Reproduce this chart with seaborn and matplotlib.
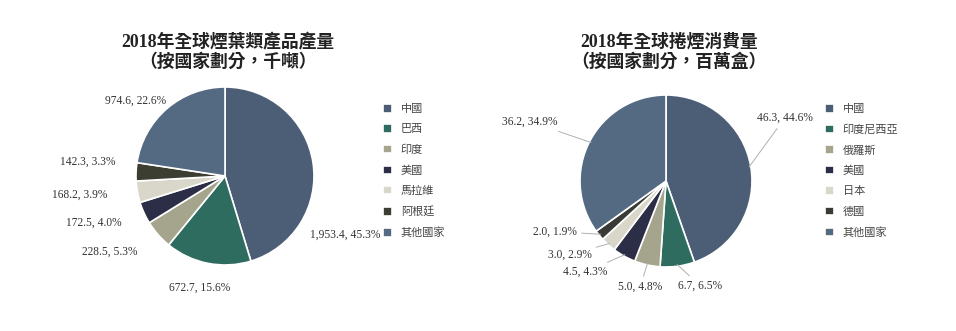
import matplotlib.pyplot as plt
import seaborn as sns
import numpy as np

# left chart: tobacco leaf production 2018 (thousand tonnes)
prod_countries = ['中國', '巴西', '印度', '美國', '馬拉維', '阿根廷', '其他國家']
prod_values = [1953.4, 672.7, 228.5, 172.5, 168.2, 142.3, 974.6]
prod_colors = ['#4c5e76', '#2e6c60', '#a4a58c', '#2c2d47', '#d9d7ca', '#3b3e30', '#546a82']

# right chart: cigarette consumption 2018 (million boxes)
cons_countries = ['中國', '印度尼西亞', '俄羅斯', '美國', '日本', '德國', '其他國家']
cons_values = [46.3, 6.7, 5.0, 4.5, 3.0, 2.0, 36.2]
cons_colors = ['#4c5e76', '#2e6c60', '#a4a58c', '#2c2d47', '#d9d7ca', '#3a3b36', '#546a82']

# label placement (pie data units) - layout only
prod_label_pos = [(1.35, -0.66), (-0.28, -1.25), (-1.29, -0.85), (-1.47, -0.52),
                  (-1.63, -0.21), (-1.54, 0.16), (-1.01, 0.85)]
cons_label_pos = [(1.38, 0.73), (0.40, -1.22), (-0.30, -1.23), (-0.94, -1.06),
                  (-1.12, -0.86), (-1.29, -0.59), (-1.58, 0.69)]

sns.set_theme(style="white")
serif = ['Liberation Serif', 'Noto Sans CJK TC']
cjk = ['Noto Sans CJK TC', 'DejaVu Sans']
plt.rcParams['font.family'] = cjk

fig = plt.figure(figsize=(9.56, 3.31), dpi=100)
W, H = 956, 331


def draw_pie(cx, cy, r, values, colors, names, label_pos, title, leg_x, leader):
    ax = fig.add_axes([(cx - r) / W, (H - cy - r) / H, 2 * r / W, 2 * r / H])
    wedges, _ = ax.pie(values, colors=colors, startangle=90, counterclock=False,
                       wedgeprops=dict(edgecolor='white', linewidth=1.2))
    ax.set_xlim(-1, 1)
    ax.set_ylim(-1, 1)
    total = sum(values)
    cum = 0
    for v, (lx, ly) in zip(values, label_pos):
        txt = f'{v:,.1f}, {v / total * 100:.1f}%'
        mid = np.deg2rad(90 - 360 * (cum + v / 2) / total)
        cum += v
        if leader:
            ax.annotate(txt, xy=(np.cos(mid) * 0.98, np.sin(mid) * 0.98), xytext=(lx, ly),
                        ha='center', va='center', fontsize=8.3, family=serif, color='#333333',
                        arrowprops=dict(arrowstyle='-', color='#b0b0b0', lw=0.7,
                                        shrinkA=1, shrinkB=0),
                        annotation_clip=False)
        else:
            ax.text(lx, ly, txt, ha='center', va='center', fontsize=8.3,
                    family=serif, color='#333333')
    fig.text((cx + 3) / W, 1 - 52 / H, title, ha='center', va='center', fontsize=12.8,
             fontweight='bold', family=serif, color='#222222', linespacing=1.15)
    fig.legend(wedges, names, loc='upper left', bbox_to_anchor=(leg_x / W, 1 - 104 / H),
               frameon=False, fontsize=8, handlelength=0.8, handleheight=0.8,
               handletextpad=0.8, labelspacing=0.92, borderaxespad=0, borderpad=0,
               labelcolor='#444444')


draw_pie(225, 176, 89, prod_values, prod_colors, prod_countries, prod_label_pos,
         '2018年全球煙葉類產品產量\n（按國家劃分，千噸）', 383, False)
draw_pie(666, 181, 86, cons_values, cons_colors, cons_countries, cons_label_pos,
         '2018年全球捲煙消費量\n（按國家劃分，百萬盒）', 825, True)

fig.savefig('out.png', dpi=100, facecolor='white')
